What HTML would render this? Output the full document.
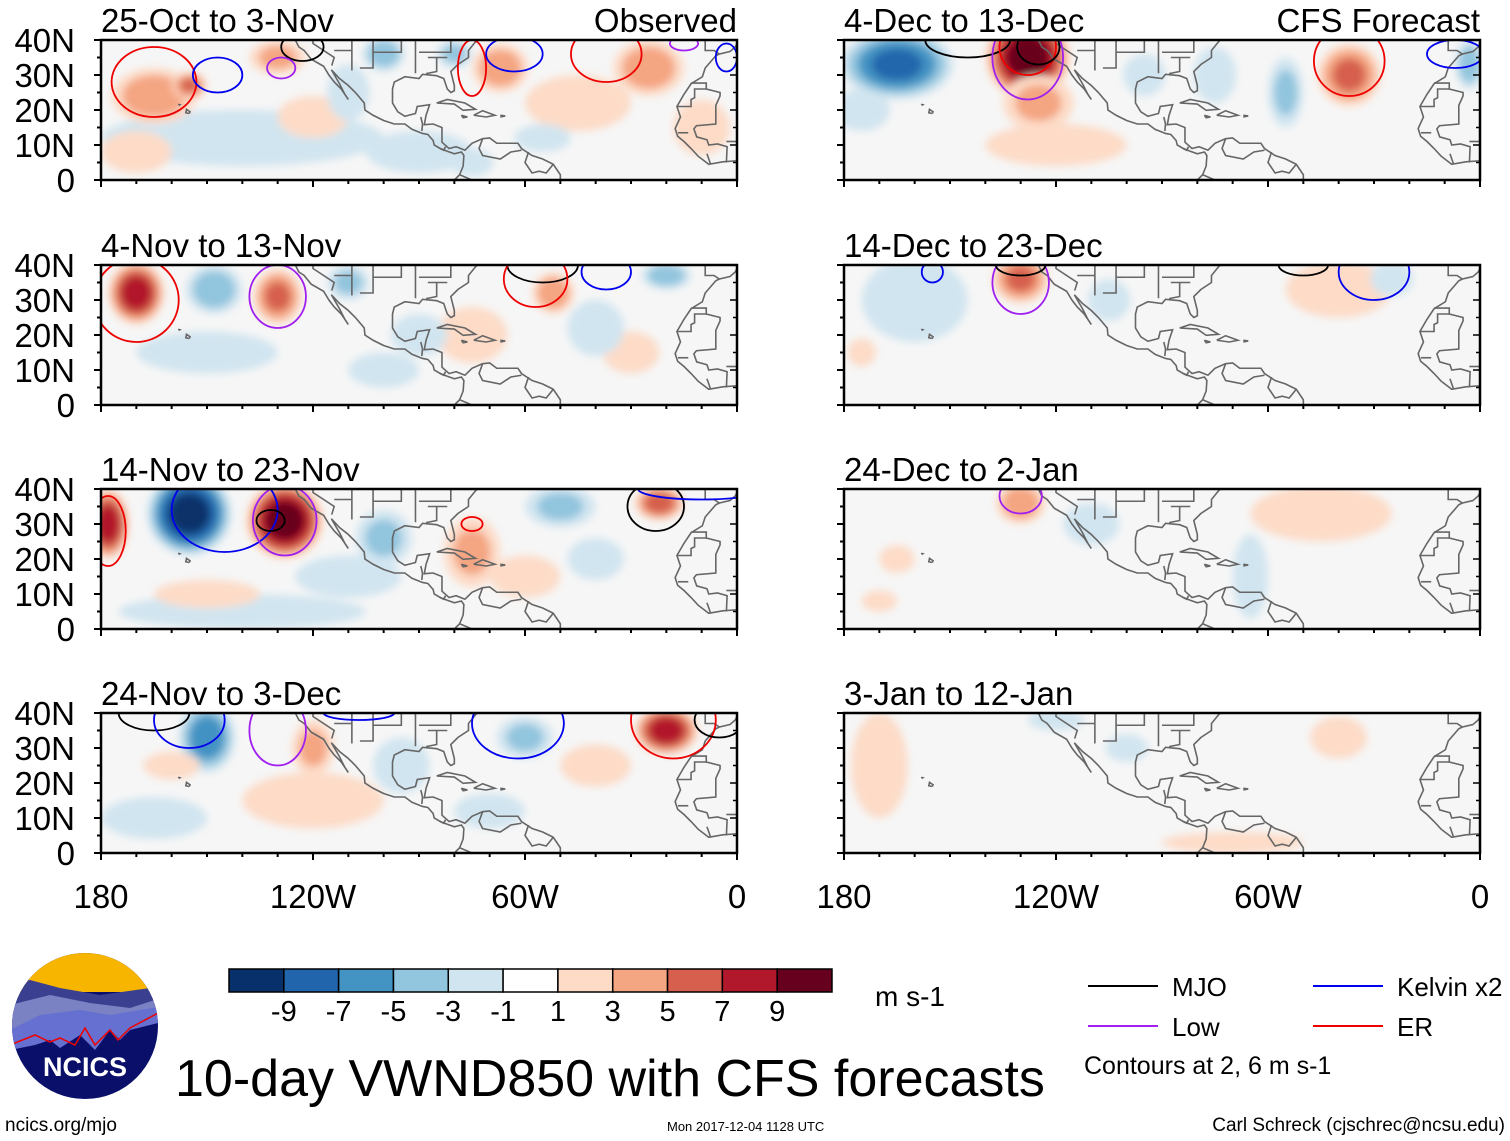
<!DOCTYPE html>
<html><head><meta charset="utf-8"><style>
body{margin:0;background:#fff;}
svg{display:block;font-family:"Liberation Sans",sans-serif;}
</style></head><body>
<svg id="chart" width="1510" height="1141" viewBox="0 0 1510 1141" xmlns="http://www.w3.org/2000/svg">
<defs>
<filter id="blur" x="-20%" y="-20%" width="140%" height="140%"><feGaussianBlur stdDeviation="4"/></filter>
</defs>
</svg>
<script>
// ---- data ----
const panelTitles=["25-Oct to 3-Nov","4-Dec to 13-Dec","4-Nov to 13-Nov","14-Dec to 23-Dec","14-Nov to 23-Nov","24-Dec to 2-Jan","24-Nov to 3-Dec","3-Jan to 12-Jan"];
const latTicks=["0","10N","20N","30N","40N"];
const lonTicks=["180","120W","60W","0"];
const cbLabels=["-9","-7","-5","-3","-1","1","3","5","7","9"];
const cbColors=["#08306b","#2166ac","#4393c3","#92c5de","#d1e5f0","#ffffff","#fddbc7","#f4a582","#d6604d","#b2182b","#67001f"];
// anomaly blobs: [lon, lat, rxDeg, ryDeg, value m/s]
const blobs0=[[-140,12,40,8,-1.5],[-90,8,15,6,-1.5],[-170,8,10,6,1.5],[-165,24,12,8,4],[-155,27,5,4,5],[-130,35,8,5,3],[-100,36,6,5,-4],[-80,36,5,4,-3],[-67,32,8,7,4],[-25,32,10,8,4],[-45,22,15,8,2],[-120,18,10,6,1.5],[-75,5,6,4,-2],[-110,25,6,8,-1.5],[-55,12,8,4,-1.5],[-10,15,8,8,1.5]];
const blobs1=[[-165,33,16,10,-7],[-175,20,8,6,-2],[-128,35,12,12,10],[-125,22,10,8,3],[-55,25,5,10,-3],[-37,30,9,9,5],[-3,33,4,7,-4],[-75,30,6,8,-2],[-120,10,20,6,1.5],[-95,30,6,6,-1.5]];
const blobs2=[[-170,32,8,9,8],[-148,33,8,7,-4],[-130,31,7,8,5],[-110,35,6,5,-3],[-52,32,6,6,4],[-20,37,7,4,-4],[-75,20,10,8,2],[-30,15,8,6,2],[-40,22,8,8,-2],[-150,15,20,6,-1.5],[-90,20,8,6,-2],[-100,10,10,5,-1.5]];
const blobs3=[[-130,36,8,7,5],[-160,30,15,12,-2],[-40,33,15,8,2],[-25,36,6,5,-2],[-105,30,6,6,-1.5],[-175,15,4,4,1.5]];
const blobs4=[[-178,30,6,10,8],[-155,33,12,12,-10],[-128,31,11,11,10],[-100,26,8,8,-3],[-110,15,15,6,-2],[-75,22,8,10,3],[-50,35,10,6,-3],[-22,36,7,5,6],[-140,5,35,5,-2],[-60,15,10,6,2],[-150,10,15,4,2],[-40,20,8,6,-1.5]];
const blobs5=[[-130,36,7,6,4],[-45,33,20,8,2],[-65,15,5,12,-1.5],[-165,20,5,4,2],[-110,30,8,6,-1.5],[-170,8,5,3,1.5]];
const blobs6=[[-150,33,8,10,-6],[-120,30,6,8,3],[-95,25,8,8,-2],[-60,33,8,6,-3],[-20,35,9,7,8],[-120,15,20,8,2],[-70,12,10,5,-2],[-40,25,10,6,2],[-165,10,15,6,-1.5],[-160,25,8,4,2]];
const blobs7=[[-170,25,8,15,2],[-120,38,8,3,-1.5],[-40,33,8,6,2],[-70,3,20,3,2],[-100,30,6,4,-1.5]];
const allBlobs=[blobs0,blobs1,blobs2,blobs3,blobs4,blobs5,blobs6,blobs7];
// contours: [lon, lat, rxDeg, ryDeg, type]
const cont0=[[-165,28,12,10,"er"],[-147,30,7,5,"kel"],[-123,38,6,4,"mjo"],[-129,32,4,3,"low"],[-75,32,4,8,"er"],[-63,36,8,5,"kel"],[-37,36,10,8,"er"],[-15,39,4,2,"low"],[-3,35,3,4,"kel"]];
const cont1=[[-145,40,12,5,"mjo"],[-128,35,10,12,"low"],[-128,38,8,8,"er"],[-125,38,6,5,"mjo"],[-37,34,10,10,"er"],[-7,36,8,4,"kel"]];
const cont2=[[-170,30,12,12,"er"],[-130,31,8,9,"low"],[-55,40,10,5,"mjo"],[-57,36,9,8,"er"],[-37,38,7,5,"kel"]];
const cont3=[[-155,38,3,3,"kel"],[-130,35,8,9,"low"],[-130,40,7,3,"mjo"],[-50,40,7,3,"mjo"],[-30,38,10,8,"kel"]];
const cont4=[[-178,28,5,10,"er"],[-145,34,15,12,"kel"],[-132,31,4,3,"mjo"],[-128,31,9,10,"low"],[-75,30,3,2,"er"],[-23,35,8,7,"mjo"],[-10,40,18,3,"kel"]];
const cont5=[[-130,38,6,5,"low"]];
const cont6=[[-165,40,10,5,"mjo"],[-155,38,10,8,"kel"],[-130,35,8,10,"low"],[-107,40,10,2,"kel"],[-62,37,13,10,"kel"],[-18,38,12,11,"er"],[-5,38,7,5,"mjo"]];
const cont7=[];
const allConts=[cont0,cont1,cont2,cont3,cont4,cont5,cont6,cont7];
const contColor={mjo:"#000000",kel:"#0000ee",low:"#a020f0",er:"#ee0000"};
// coastlines (lon,lat)
const coasts=[
[[-125,40],[-124,38],[-122.5,37],[-120.5,34.5],[-117,32.5],[-115.5,30],[-114,28],[-112,26],[-110,23],[-111,24.5],[-112.5,27.5],[-114.8,31.5],[-112.5,29],[-110,27],[-108,25],[-105.5,22],[-105.3,20],[-103,18.5],[-100,17],[-97,16],[-94,16],[-92,14.5],[-89,13.3],[-87.5,13],[-86,11.3],[-85.7,10],[-84,9],[-82,8.2],[-80,7.5],[-78,8],[-77.3,7],[-77.5,4],[-78.5,1.5],[-80,0]],
[[-50,0],[-50,1.5],[-52,4.5],[-55,6],[-58,7],[-61,9],[-62,10.5],[-64,10.5],[-68,10.5],[-70,12],[-72,11.8],[-75,10.5],[-77,8.5],[-79.5,9.5],[-81.5,9],[-83.5,10.8],[-83.5,15],[-86,16],[-88.5,15.8],[-88,18.5],[-87,21.5],[-90.5,21],[-91,19],[-94,18.2],[-96,19.5],[-97.5,22],[-97.5,26],[-97,28],[-94,29.5],[-90,29],[-89,30.2],[-85,29.8],[-83,29],[-82,26],[-81,25],[-80,25.5],[-80,27],[-81,31],[-79,33],[-76,35],[-76,37],[-74,39.5],[-73.5,40]],
[[-85,22],[-82,23],[-77,22],[-74,20.2],[-77.5,19.9],[-80,21.7],[-85,22]],
[[-74.5,18.5],[-72,19.8],[-68.5,18.5],[-71,18],[-74.5,18.5]],
[[-78,18.5],[-76.3,18],[-77.5,17.8],[-78,18.5]],
[[-67,18.5],[-65.6,18.3],[-67,18]],
[[-5,36],[-6,35.5],[-9,32],[-9.8,29.5],[-13,27.5],[-15,24.5],[-17,21],[-16,18],[-17.5,14.7],[-16.8,12.5],[-15,11],[-13,9],[-11,6.8],[-8,4.5],[-4,5.2],[0,5.5]],
[[0,39],[-0.5,38],[-2,36.7],[-5,36],[-6.5,37],[-9,37],[-9,40]],
[[-155,19],[-154.8,19.5],[-155.8,20.2],[-156,19.2],[-155,19]],
[[-158,21.3],[-157.7,21.5],[-158.2,21.6]],
[[-120,40],[-120,39],[-114,35],[-114.7,32.7]],[[-109,40],[-109,31.3]],[[-103,40],[-103,32],[-106.5,32],[-106.5,31.8]],[[-95,40],[-95,36.5],[-103,36.5]],[[-91,40],[-91,30.5]],[[-85,35],[-85,31],[-88,30.4]],[[-114,37],[-109,37]],[[-102,40],[-91,40]],[[-81,40],[-81,36.5],[-90,36.5]],[[-87.5,35],[-82,35]],[[-79,40],[-75,40]],
[[-13,27.7],[-8.7,27.7],[-8.7,26],[-4.8,25],[-4.8,24],[-6,21.3],[-6,16],[-11.5,15.5],[-12.2,14.6],[-11.4,12.3],[-8.5,11.5],[-8,10],[-5.5,10.3],[-2.8,9.5],[-3,5]],[[-17,21],[-13,21],[-13,23],[-12,23.5],[-12,26],[-8.7,26]],[[-16.7,13.5],[-13.8,13.5]],[[-8.5,7.5],[-7.5,4.6]],[[0,11],[-3,11]],
[[-65,40],[-70,43]],[[-59,8],[-60,5],[-58,2],[-56,2.5],[-54,2],[-52,4.5]],[[-72,11.8],[-73,9],[-72,7],[-67,6],[-64,8],[-61,8.5]],[[-78.5,1.5],[-75,0]],[[-84,9],[-83,8.5],[-82.5,9.5]],[[-89.5,18],[-89,16],[-89.2,14]]
];
// ---- layout ----
const svg=document.getElementById('chart');
const NS="http://www.w3.org/2000/svg";
function el(tag,attrs,parent){const e=document.createElementNS(NS,tag);for(const k in attrs)e.setAttribute(k,attrs[k]);(parent||svg).appendChild(e);return e;}
const colX=[101,844],rowY=[40,265,489,713],PW=636,PH=140;
function binColor(t,sign){const i=[1,3,5,7,9].indexOf(t);return sign>0?cbColors[6+i]:cbColors[4-i];}
for(let p=0;p<8;p++){
  const x0=colX[p%2],y0=rowY[Math.floor(p/2)];
  const xs=lon=>x0+(lon+180)/180*PW;
  const ys=lat=>y0+PH-lat/40*PH;
  const sx=PW/180,sy=PH/40;
  const g=el('g',{});
  
  
  const cp=el('clipPath',{id:'cp'+p},svg.querySelector('defs'));
  el('rect',{x:x0,y:y0,width:PW,height:PH},cp);
  el('rect',{x:x0,y:y0,width:PW,height:PH,fill:'#f6f6f6'},g);
  const field=el('g',{'clip-path':'url(#cp'+p+')'},g);
  const fb=el('g',{filter:'url(#blur)'},field);
  
  
  for(const b of allBlobs[p]){
    const v=Math.abs(b[4]),s=Math.sign(b[4]);
    for(const t of [1,3,5,7,9]){
      if(v<t)break;
      const f=Math.sqrt(1-(t-1)/(v+0.5));
      const e=el('ellipse',{cx:xs(b[0]),cy:ys(b[1]),rx:b[2]*sx*f,ry:b[3]*sy*f,fill:binColor(t,s)},fb);
      
      
    }
  }
  const cg=el('g',{fill:'none',stroke:'#666','stroke-width':1.6},field);
  
  
  for(const c of coasts){el('polyline',{points:c.map(q=>xs(q[0])+','+ys(q[1])).join(' ')},cg);}
  for(const c of allConts[p]){
    const e=el('ellipse',{cx:xs(c[0]),cy:ys(c[1]),rx:c[2]*sx,ry:c[3]*sy,fill:'none',stroke:contColor[c[4]],'stroke-width':1.8},field);
    
    
  }
  el('rect',{x:x0,y:y0,width:PW,height:PH,fill:'none',stroke:'#000','stroke-width':2.5},g);
  for(let lon=-180;lon<=0;lon+=10){
    const major=lon%60===0;
    el('line',{x1:xs(lon),x2:xs(lon),y1:y0+PH,y2:y0+PH+(major?7:4),stroke:'#000','stroke-width':2},g);
  }
  for(let lat=0;lat<=40;lat+=5){
    const L=lat%10===0?7:4;
    el('line',{x1:x0,x2:x0-L,y1:ys(lat),y2:ys(lat),stroke:'#000','stroke-width':2},g);
    el('line',{x1:x0+PW,x2:x0+PW-L,y1:ys(lat),y2:ys(lat),stroke:'#000','stroke-width':1.5},g);
  }
  const tt=el('text',{x:x0,y:y0-8,'font-size':33},g);tt.textContent=panelTitles[p];
  
  
  if(p===0||p===1){const r=el('text',{x:x0+PW,y:y0-8,'font-size':33,'text-anchor':'end'},g);r.textContent=p===0?'Observed':'CFS Forecast';
    
    }
  if(p%2===0){latTicks.forEach((l,i)=>{const t=el('text',{x:x0-26,y:ys(i*10)+12,'font-size':33,'text-anchor':'end'},g);t.textContent=l;
    
    });}
  if(p>=6){lonTicks.forEach((l,i)=>{const t=el('text',{x:xs(-180+i*60),y:908,'font-size':33,'text-anchor':'middle'},g);t.textContent=l;
    
    });}
}
// colorbar
const cb=el('g',{});


const cbx=229,cbw=603/11;
cbColors.forEach((c,i)=>{el('rect',{x:cbx+i*cbw,y:969,width:cbw,height:23,fill:c,stroke:'#000','stroke-width':1.5},cb);});
cbLabels.forEach((l,i)=>{const t=el('text',{x:cbx+(i+1)*cbw,y:1021,'font-size':29,'text-anchor':'middle'},cb);t.textContent=l;
  
  });
</script>
<script>
(function(){
const svg=document.getElementById('chart');const NS="http://www.w3.org/2000/svg";
function el(tag,a,p){const e=document.createElementNS(NS,tag);for(const k in a)e.setAttribute(k,a[k]);(p||svg).appendChild(e);return e;}
function txt(x,y,s,str,name,anchor){const t=el('text',{x:x,y:y,'font-size':s,'text-anchor':anchor||'start'});t.textContent=str;return t;}
txt(875,1006,28,'m s-1','units-label');
txt(175,1096,52,'10-day VWND850 with CFS forecasts','chart-title');
txt(5,1131,19,'ncics.org/mjo','ncics-link');
txt(667,1131,13,'Mon 2017-12-04 1128 UTC','timestamp');
txt(1505,1131,19,'Carl Schreck (cjschrec@ncsu.edu)','author-credit','end');
txt(1084,1074,25,'Contours at 2, 6 m s-1','contour-note');
const leg=[[1088,986,'#000','MJO'],[1313,986,'#0000ee','Kelvin x2'],[1088,1026,'#a020f0','Low'],[1313,1026,'#ee0000','ER']];
leg.forEach(l=>{const g=el('g',{});
el('line',{x1:l[0],x2:l[0]+70,y1:l[1],y2:l[1],stroke:l[2],'stroke-width':2},g);
const t=el('text',{x:l[0]+84,y:l[1]+10,'font-size':26},g);t.textContent=l[3];});
const lg=el('g',{});
const cp=el('clipPath',{id:'logoclip'},svg.querySelector('defs'));el('circle',{cx:85,cy:1026,r:73},cp);
const inner=el('g',{'clip-path':'url(#logoclip)'},lg);
el('rect',{x:0,y:950,width:170,height:160,fill:'#0a0f6a'},inner);
el('rect',{x:0,y:950,width:170,height:42,fill:'#f7b500'},inner);
el('polygon',{points:'10,985 30,980 60,988 100,995 150,988 170,990 170,1010 10,1020',fill:'#3a3f8f'},inner);
el('polygon',{points:'10,1005 50,995 90,1003 130,1008 170,995 170,1020 10,1035',fill:'#7a82c4'},inner);
el('polygon',{points:'10,1030 40,1015 80,1010 110,1015 170,1005 170,1020 130,1030 120,1040 110,1030 95,1050 80,1035 60,1048 50,1040 35,1045 10,1050',fill:'#6670d0'},inner);
el('polyline',{points:'10,1045 35,1035 50,1042 60,1038 75,1045 85,1028 95,1045 110,1030 118,1040 130,1028 160,1012',fill:'none',stroke:'#e00','stroke-width':1.5},inner);
const lt=el('text',{x:85,y:1076,'font-size':27,'font-weight':'bold',fill:'#fff','text-anchor':'middle'},lg);lt.textContent='NCICS';
})();
</script>
</body></html>
